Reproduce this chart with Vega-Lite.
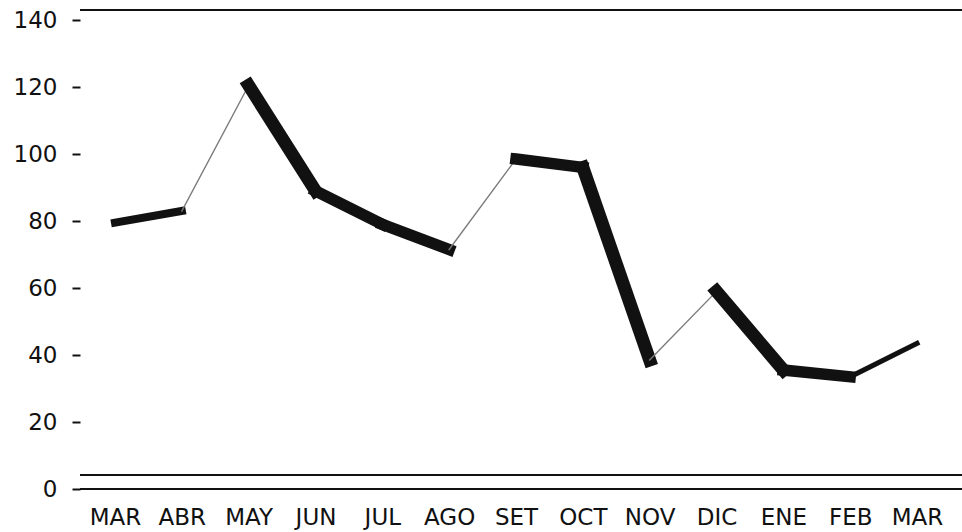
{
  "$schema": "https://vega.github.io/schema/vega-lite/v6.json",
  "width": 882,
  "height": 479,
  "autosize": "none",
  "padding": {"left": 80, "top": 10, "right": 0, "bottom": 43},
  "background": "white",
  "config": {"view": {"stroke": null}, "font": "DejaVu Sans"},
  "datasets": {
    "serie": [
      {"mes": "01 MAR", "v": 79.5},
      {"mes": "02 ABR", "v": 83},
      {"mes": "03 MAY", "v": 120.5},
      {"mes": "04 JUN", "v": 89},
      {"mes": "05 JUL", "v": 79},
      {"mes": "06 AGO", "v": 71.5},
      {"mes": "07 SET", "v": 98.5},
      {"mes": "08 OCT", "v": 96},
      {"mes": "09 NOV", "v": 38.5},
      {"mes": "10 DIC", "v": 59},
      {"mes": "11 ENE", "v": 35.5},
      {"mes": "12 FEB", "v": 33.5},
      {"mes": "13 MAR", "v": 43.5}
    ],
    "marcos": [{"nivel": 0}, {"nivel": 4.2}, {"nivel": 143}]
  },
  "layer": [
    {
      "data": {"name": "marcos"},
      "mark": {"type": "rule", "stroke": "#111", "strokeWidth": 2},
      "encoding": {
        "y": {
          "field": "nivel", "type": "quantitative",
          "scale": {"domain": [0, 143], "nice": false},
          "axis": {"title": null, "values": [0, 20, 40, 60, 80, 100, 120, 140], "tickSize": 8, "tickWidth": 2, "tickColor": "#111", "domain": false, "labelFontSize": 23, "labelPadding": 15, "labelColor": "#111", "grid": false}
        }
      }
    },
    {
      "data": {"name": "serie"},
      "transform": [
        {"window": [{"op": "lead", "field": "v", "as": "v2"}, {"op": "lead", "field": "mes", "as": "mes2"}], "sort": [{"field": "mes"}]},
        {"filter": "datum.v2 != null"}
      ],
      "mark": {"type": "rule", "strokeCap": "square"},
      "encoding": {
        "x": {
          "field": "mes", "type": "ordinal",
          "scale": {"type": "point", "range": [35, 837], "padding": 0},
          "axis": {"title": null, "labelExpr": "slice(datum.value, 3)", "labelAngle": 0, "ticks": false, "domain": false, "labelFontSize": 23, "labelPadding": 17, "labelColor": "#111", "grid": false}
        },
        "x2": {"field": "mes2"},
        "y": {
          "field": "v", "type": "quantitative",
          "scale": {"domain": [0, 143], "nice": false},
          "axis": {"title": null, "values": [0, 20, 40, 60, 80, 100, 120, 140], "tickSize": 8, "tickWidth": 2, "tickColor": "#111", "domain": false, "labelFontSize": 23, "labelPadding": 15, "labelColor": "#111", "grid": false}
        },
        "y2": {"field": "v2"},
        "strokeWidth": {
          "condition": [
            {"test": "datum.v2 - datum.v > 20", "value": 1.4},
            {"test": "datum.v2 - datum.v > 6", "value": 5},
            {"test": "datum.v2 - datum.v >= 0", "value": 8},
            {"test": "datum.v2 - datum.v < -20", "value": 13}
          ],
          "value": 11.5
        },
        "color": {
          "condition": {"test": "datum.v2 - datum.v > 20", "value": "#7a7a7a"},
          "value": "#111"
        }
      }
    }
  ]
}
